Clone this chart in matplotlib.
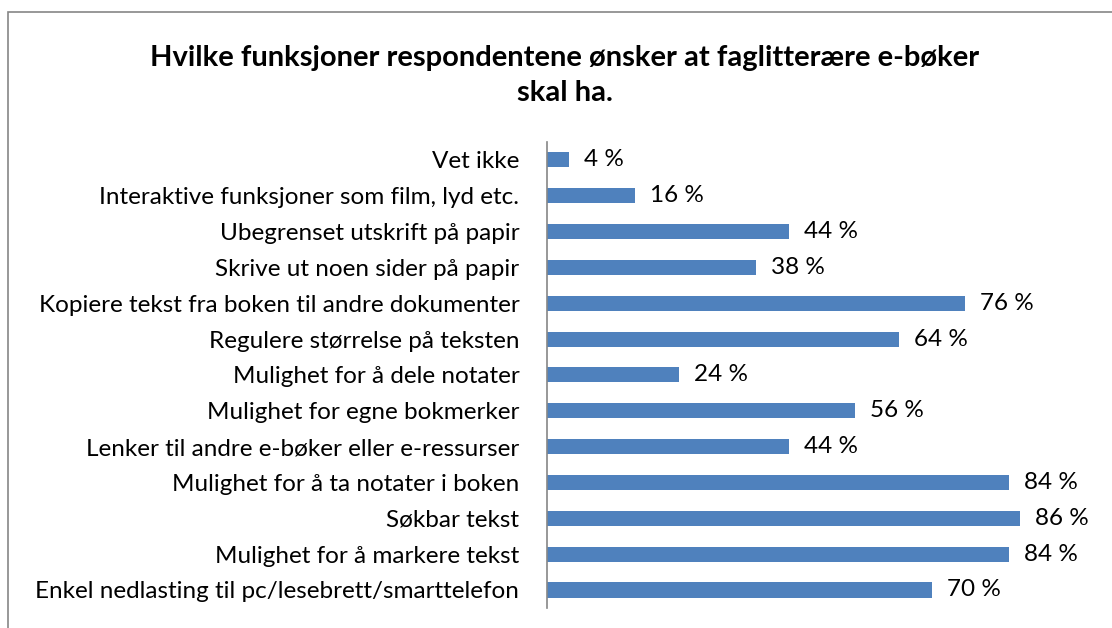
from matplotlib import pyplot as plt
from matplotlib.patches import Rectangle

#%% Data
labels = ['Vet ikke',
          'Interaktive funksjoner som film, lyd etc.',
          'Ubegrenset utskrift på papir',
          'Skrive ut noen sider på papir',
          'Kopiere tekst fra boken til andre dokumenter',
          'Regulere størrelse på teksten',
          'Mulighet for å dele notater',
          'Mulighet for egne bokmerker',
          'Lenker til andre e-bøker eller e-ressurser',
          'Mulighet for å ta notater i boken',
          'Søkbar tekst',
          'Mulighet for å markere tekst',
          'Enkel nedlasting til pc/lesebrett/smarttelefon']
values = [4, 16, 44, 38, 76, 64, 24, 56, 44, 84, 86, 84, 70]
title = 'Hvilke funksjoner respondentene ønsker at faglitterære e-bøker\nskal ha.'

#%% Plot
plt.rcParams['font.family'] = ['Lato', 'DejaVu Sans']
fig = plt.figure(figsize=(11.12, 6.28), dpi=100)
ax = fig.add_axes([0.492, 0.032, 0.494, 0.742])

y = list(range(len(labels)))
ax.barh(y, values, height=0.42, color='#4f81bd')
for yi, v in zip(y, values):
    ax.text(v + 2.8, yi, '%d %%' % v, va='center', ha='left', fontsize=17.5)

ax.set_xlim(0, 100)
ax.set_ylim(len(labels) - 0.5, -0.5)
ax.set_yticks(y)
ax.set_yticklabels(labels, fontsize=17.5)
ax.tick_params(axis='y', length=0, pad=20)
ax.set_xticks([])
for s in ['top', 'right', 'bottom']:
    ax.spines[s].set_visible(False)
ax.spines['left'].set_color('#868686')
ax.spines['left'].set_linewidth(1.2)

fig.text(0.508, 0.88, title, ha='center', va='center', fontsize=21,
         fontweight='bold', linespacing=1.45)

# chart frame (only top/left edges visible)
fig.patches.append(Rectangle((8/1112, -0.1), 1.2, 1.1 - 12/628, transform=fig.transFigure,
                             fill=False, edgecolor='#868686', linewidth=1.2))

plt.savefig('out.png', dpi=100)
